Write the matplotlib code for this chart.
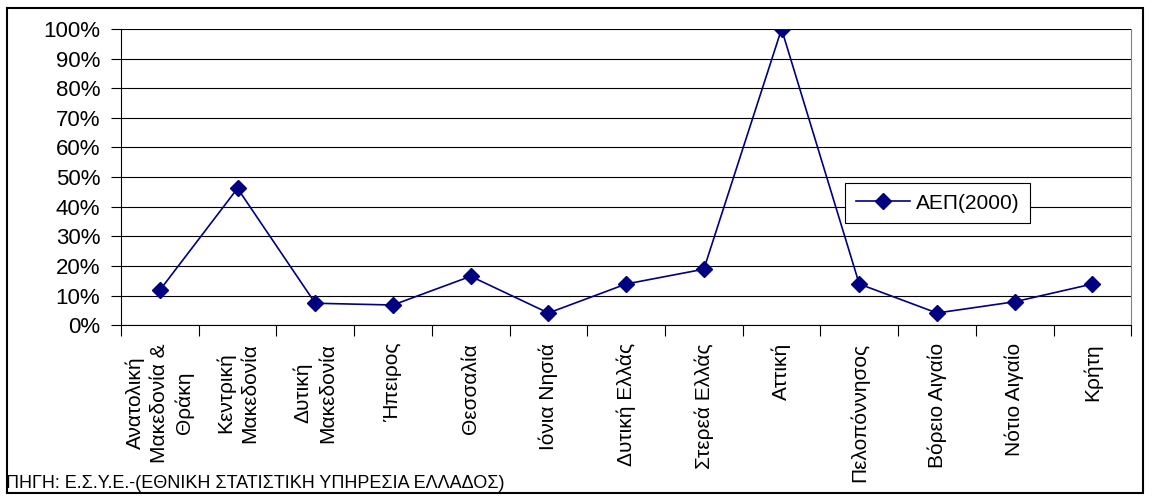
import matplotlib.pyplot as plt
from matplotlib.patches import Rectangle
from matplotlib.ticker import FuncFormatter, FixedLocator

# Data
regions = [
    "Ανατολική\nΜακεδονία &\nΘράκη",
    "Κεντρική\nΜακεδονία",
    "Δυτική\nΜακεδονία",
    "Ήπειρος",
    "Θεσσαλία",
    "Ιόνια Νησιά",
    "Δυτική Ελλάς",
    "Στερεά Ελλάς",
    "Αττική",
    "Πελοπόννησος",
    "Βόρειο Αιγαίο",
    "Νότιο Αιγαίο",
    "Κρήτη",
]
gdp_2000 = [11.8, 46.2, 7.4, 6.8, 16.5, 4.1, 13.9, 18.9, 100.0, 13.9, 4.1, 7.9, 13.9]
series_label = "ΑΕΠ(2000)"
source_text = "ΠΗΓΗ: Ε.Σ.Υ.Ε.-(ΕΘΝΙΚΗ ΣΤΑΤΙΣΤΙΚΗ ΥΠΗΡΕΣΙΑ ΕΛΛΑΔΟΣ)"

plt.rcParams['font.family'] = ['Liberation Sans', 'DejaVu Sans']

fig = plt.figure(figsize=(11.52, 5.01), dpi=100)
ax = fig.add_axes([0.105, 0.351, 0.877, 0.591])

x = list(range(len(regions)))
ax.plot(x, gdp_2000, color='#000080', linewidth=1.2, marker='D',
        markersize=8.5, markerfacecolor='#000080', markeredgecolor='#000080',
        label=series_label, zorder=3)

ax.set_xlim(-0.5, len(regions) - 0.5)
ax.set_ylim(0, 100)
ax.set_yticks(range(0, 101, 10))
ax.yaxis.set_major_formatter(FuncFormatter(lambda v, p: f"{int(v)}%"))
ax.grid(axis='y', color='black', linewidth=0.8)
ax.set_axisbelow(True)

# category labels between boundary ticks
ax.xaxis.set_major_locator(FixedLocator([i - 0.5 for i in range(len(regions) + 1)]))
ax.xaxis.set_major_formatter(FuncFormatter(lambda v, p: ""))
ax.tick_params(axis='x', which='major', length=8, direction='out', width=0.8)
ax.tick_params(axis='y', length=7, direction='out', width=0.8, labelsize=16, pad=8)
for i, name in enumerate(regions):
    ax.text(i, -6, name, rotation=90, ha='center', va='top',
            multialignment='center', fontsize=15, linespacing=1.35,
            transform=ax.transData, clip_on=False)

ax.spines['top'].set_visible(False)
ax.spines['right'].set_color('#808080')
ax.spines['left'].set_color('black')
ax.spines['bottom'].set_color('black')

leg = ax.legend(loc='lower left', bbox_to_anchor=(0.717, 0.345), fontsize=15,
                frameon=True, fancybox=False, framealpha=1, edgecolor='black',
                handlelength=2.6, borderpad=0.5, handletextpad=0.3,
                borderaxespad=0)
leg.get_frame().set_linewidth(0.8)

fig.text(0.005, 0.034, source_text, fontsize=13, ha='left', va='center')

fig.patches.append(Rectangle((7 / 1152, 8 / 501), 1136 / 1152, 485 / 501,
                             transform=fig.transFigure, fill=False,
                             edgecolor='black', linewidth=1.5))

fig.savefig("out.png", dpi=100)
